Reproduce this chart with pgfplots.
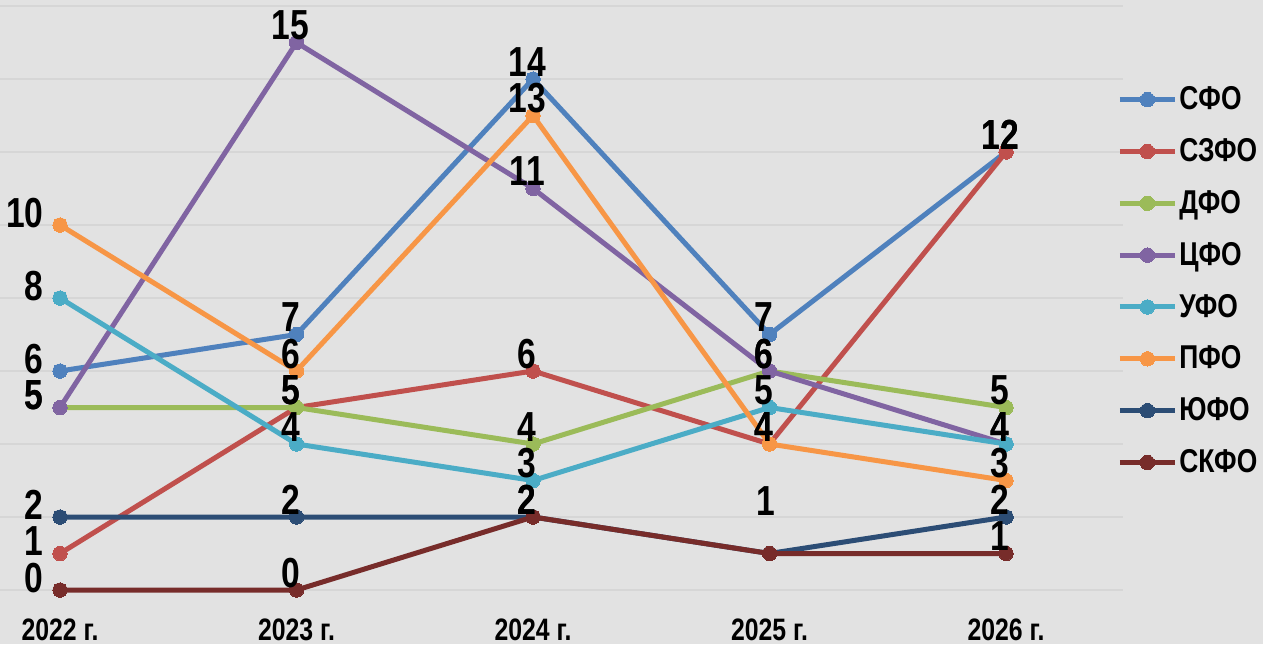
\documentclass[border=0pt]{standalone}
\usepackage{pgfplots}
\pgfplotsset{compat=1.18}
\usepackage{pgfplotstable}
\usepackage{fontspec}
\setmainfont{Liberation Sans}[FakeStretch=0.8]
\definecolor{bgc}{RGB}{226,226,226}
\definecolor{gridc}{RGB}{214,214,214}
\definecolor{cSFO}{HTML}{4F81BD}
\definecolor{cSZFO}{HTML}{C0504D}
\definecolor{cDFO}{HTML}{9BBB59}
\definecolor{cCFO}{HTML}{8064A2}
\definecolor{cUFO}{HTML}{4BACC6}
\definecolor{cPFO}{HTML}{F79646}
\definecolor{cYUFO}{HTML}{2C4D75}
\definecolor{cSKFO}{HTML}{772C2A}
\pgfplotstableread{
x sfo szfo dfo cfo ufo pfo yufo skfo
0 6 1 5 5 8 10 2 0
1 7 5 5 15 4 6 2 0
2 14 6 4 11 3 13 2 2
3 7 4 6 6 5 4 1 1
4 12 12 5 4 4 3 2 1
}\datatable
\pgfplotsset{
  ser/.style={#1, line width=2.5pt, mark=*, mark size=3.6pt,
    mark options={fill=#1, draw=#1, line width=0pt}},
  labp/.style n args={4}{draw=none, mark=none, forget plot, nodes near coords,
    restrict x to domain=#1,
    every node near coord/.append style={font=\bfseries\fontsize{21}{21}\selectfont,
      text=black, inner sep=0pt, anchor=#2, xshift=#3, yshift=#4}},
  labA/.style={labp={-1:0.5}{base east}{-8pt}{-1pt}},
  labB/.style={labp={0.5:4.5}{base}{-3pt}{1.5pt}},
}
\begin{document}
\begin{tikzpicture}
\fill[bgc] (0,0) rectangle (631.5pt,322pt);
\useasboundingbox (0,0) rectangle (631.5pt,322pt);
\begin{axis}[
  at={(0pt,27pt)}, anchor=south west,
  scale only axis, width=561.5pt, height=292pt,
  xmin=-0.2537, xmax=4.4947, ymin=0, ymax=16,
  axis line style={draw=none},
  ytick={0,2,...,16}, yticklabels={},
  ymajorgrids, grid style={gridc, line width=1pt},
  major tick length=0pt,
  xtick={0,1,2,3,4},
  xticklabels={2022 г.,2023 г.,2024 г.,2025 г.,2026 г.},
  xticklabel style={font=\bfseries\fontsize{15.5}{15.5}\selectfont, anchor=base, inner sep=0pt, yshift=-25pt},
  clip=false,
  /pgf/number format/assume math mode=true,
  legend style={at={(1.0,0.529)}, anchor=west, xshift=-3pt, draw=none, fill=none,
    inner sep=0pt, row sep=10.9pt,
    font=\bfseries\fontsize{16.5}{16.5}\selectfont,
    nodes={inner sep=1pt}},
  legend cell align=left,
  legend image code/.code={\draw[#1, mark repeat=2, mark phase=2] plot coordinates {(0pt,0pt) (13.75pt,0pt) (27.5pt,0pt)};},
]
\addplot[ser=cSFO] table[x=x, y=sfo] {\datatable};
\addlegendentry{СФО}
\addplot[ser=cSZFO] table[x=x, y=szfo] {\datatable};
\addlegendentry{СЗФО}
\addplot[ser=cDFO] table[x=x, y=dfo] {\datatable};
\addlegendentry{ДФО}
\addplot[ser=cCFO] table[x=x, y=cfo] {\datatable};
\addlegendentry{ЦФО}
\addplot[ser=cUFO] table[x=x, y=ufo] {\datatable};
\addlegendentry{УФО}
\addplot[ser=cPFO] table[x=x, y=pfo] {\datatable};
\addlegendentry{ПФО}
\addplot[ser=cYUFO] table[x=x, y=yufo] {\datatable};
\addlegendentry{ЮФО}
\addplot[ser=cSKFO] table[x=x, y=skfo] {\datatable};
\addlegendentry{СКФО}
% data labels
\addplot[labA] table[x=x, y=sfo] {\datatable};
\addplot[labB] table[x=x, y=sfo] {\datatable};
\addplot[labA] table[x=x, y=szfo] {\datatable};
\addplot[labB] table[x=x, y=szfo] {\datatable};
\addplot[labA] table[x=x, y=dfo] {\datatable};
\addplot[labB] table[x=x, y=dfo] {\datatable};
\addplot[labA] table[x=x, y=cfo] {\datatable};
\addplot[labB] table[x=x, y=cfo] {\datatable};
\addplot[labA] table[x=x, y=ufo] {\datatable};
\addplot[labB] table[x=x, y=ufo] {\datatable};
\addplot[labA] table[x=x, y=pfo] {\datatable};
\addplot[labB] table[x=x, y=pfo] {\datatable};
\addplot[labA] table[x=x, y=yufo] {\datatable};
\addplot[labp={0.5:2.5}{base}{-3pt}{1.5pt}] table[x=x, y=yufo] {\datatable};
\addplot[labp={2.5:3.5}{base}{-2pt}{19pt}] table[x=x, y=yufo] {\datatable};
\addplot[labp={3.5:4.5}{base}{-3pt}{1.5pt}] table[x=x, y=yufo] {\datatable};
\addplot[labA] table[x=x, y=skfo] {\datatable};
\addplot[labp={0.5:2.5}{base}{-3pt}{1.5pt}] table[x=x, y=skfo] {\datatable};
\addplot[labp={3.5:4.5}{base}{-3pt}{1.5pt}] table[x=x, y=skfo] {\datatable};
\end{axis}
\end{tikzpicture}
\end{document}
